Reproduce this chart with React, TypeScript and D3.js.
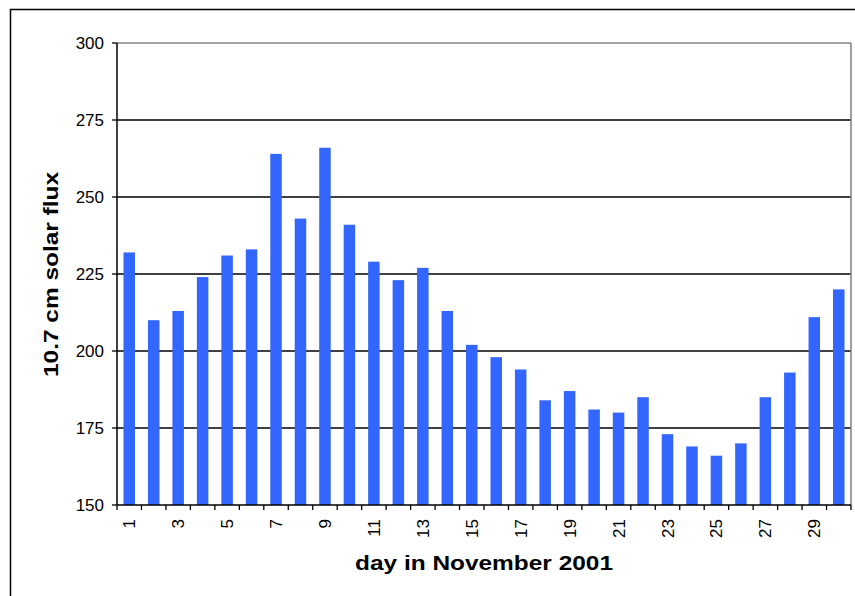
import React from "react";
import * as d3 from "d3";

const days = d3.range(1, 31).map(String);
const flux = [
  232, 210, 213, 224, 231, 233, 264, 243, 266, 241, 229, 223, 227, 213, 202,
  198, 194, 184, 187, 181, 180, 185, 173, 169, 166, 170, 185, 193, 211, 220,
];
const yTicks = [150, 175, 200, 225, 250, 275, 300];

const width = 855;
const height = 596;
const margin = { top: 43, right: 4, bottom: 91, left: 117 };

const App = () => {
  const innerW = width - margin.left - margin.right;
  const innerH = height - margin.top - margin.bottom;

  const x = d3.scaleBand().domain(days).range([0, innerW]).paddingInner(0.53).paddingOuter(0.265);
  const band = d3.scaleBand().domain(days).range([0, innerW]);
  const y = d3.scaleLinear().domain([150, 300]).range([innerH, 0]);

  const font = "Arial, 'Liberation Sans', sans-serif";

  return (
    <svg
      width={width}
      height={height}
      style={{ position: "absolute", left: 0, top: 0, background: "#fff" }}
    >
      {/* outer chart border */}
      <rect x={10.5} y={9.5} width={900} height={700} fill="none" stroke="#000" strokeWidth={1.5} />

      <g transform={`translate(${margin.left},${margin.top})`}>
        {/* grid lines */}
        {yTicks.slice(1, -1).map((t) => (
          <line key={t} x1={0} x2={innerW} y1={y(t)} y2={y(t)} stroke="#000" strokeWidth={1.3} />
        ))}
        {/* plot border (top / right) */}
        <line x1={0} x2={innerW} y1={0} y2={0} stroke="#808080" strokeWidth={1.5} />
        <line x1={innerW} x2={innerW} y1={0} y2={innerH} stroke="#808080" strokeWidth={1.5} />

        {/* bars */}
        {flux.map((v, i) => (
          <rect
            key={days[i]}
            x={x(days[i])}
            y={y(v)}
            width={x.bandwidth()}
            height={innerH - y(v)}
            fill="#3366FF"
          />
        ))}

        {/* y axis */}
        <line x1={0} x2={0} y1={0} y2={innerH} stroke="#000" strokeWidth={1.5} />
        {yTicks.map((t) => (
          <g key={t} transform={`translate(0,${y(t)})`}>
            <line x1={-5} x2={0} stroke="#000" strokeWidth={1.3} />
            <text x={-13} dy="0.35em" textAnchor="end" fontFamily={font} fontSize={17} fill="#000">
              {t}
            </text>
          </g>
        ))}

        {/* x axis */}
        <line x1={0} x2={innerW} y1={innerH} y2={innerH} stroke="#000" strokeWidth={1.5} />
        {days.map((d) => (
          <line
            key={d}
            x1={band(d)}
            x2={band(d)}
            y1={innerH}
            y2={innerH + 5}
            stroke="#000"
            strokeWidth={1.3}
          />
        ))}
        <line x1={innerW} x2={innerW} y1={innerH} y2={innerH + 5} stroke="#000" strokeWidth={1.3} />
        {days
          .filter((_, i) => i % 2 === 0)
          .map((d) => (
            <text
              key={d}
              transform={`translate(${band(d) + band.bandwidth() / 2 + 6},${innerH + 14}) rotate(-90)`}
              textAnchor="end"
              fontFamily={font}
              fontSize={17}
              fill="#000"
            >
              {d}
            </text>
          ))}
      </g>

      {/* axis titles */}
      <text
        x={484}
        y={569.5}
        textAnchor="middle"
        textLength={258}
        lengthAdjust="spacingAndGlyphs"
        fontFamily={font}
        fontSize={20}
        fontWeight="bold"
        fill="#000"
      >
        day in November 2001
      </text>
      <text
        transform={`translate(58,274.5) rotate(-90)`}
        textAnchor="middle"
        textLength={205}
        lengthAdjust="spacingAndGlyphs"
        fontFamily={font}
        fontSize={20.5}
        fontWeight="bold"
        fill="#000"
      >
        10.7 cm solar flux
      </text>
    </svg>
  );
};

export default App;
